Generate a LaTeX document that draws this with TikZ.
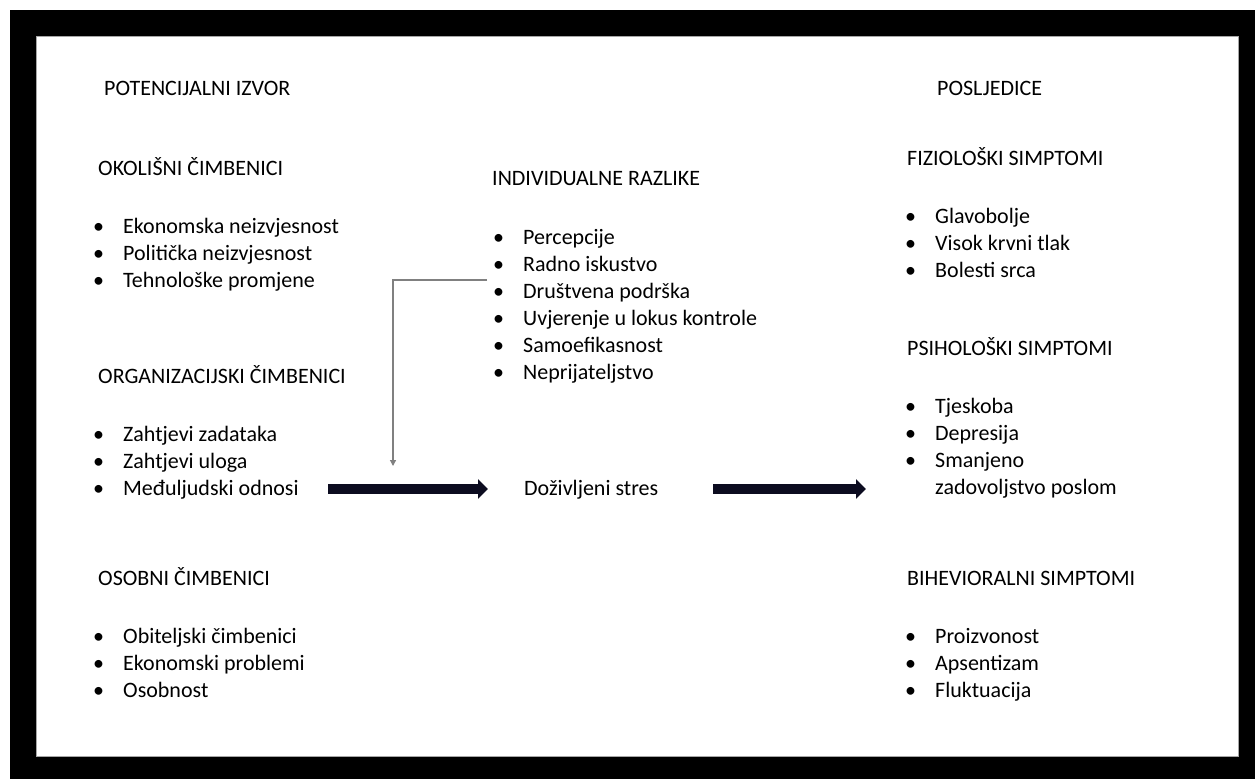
\documentclass[tikz,border=0pt]{standalone}
\usepackage{fontspec}
\setmainfont{Carlito}
\usepackage{xcolor}
\usetikzlibrary{arrows.meta,positioning}

\definecolor{arrownavy}{RGB}{12,12,32}
\definecolor{linkgray}{RGB}{128,128,128}

% bullet list set as a tabular, first baseline on top
\newcommand{\blist}[1]{\begin{tabular}[t]{@{}p{30pt}@{}l@{}}#1\end{tabular}}

\begin{document}
\begin{tikzpicture}[
  x=1pt, y=-1pt,
  head/.style={anchor=base west, inner sep=0pt, font=\fontsize{22}{27}\selectfont},
  items/.style={anchor=base west, inner sep=0pt, font=\fontsize{22}{27}\selectfont, align=left},
  bigarrow/.style={-{Triangle[length=10pt, width=19pt]}, line width=9.5pt, draw=arrownavy},
  modarrow/.style={-{Triangle[length=6pt, width=6pt]}, line width=1.3pt, draw=linkgray}
]
\useasboundingbox (0,0) rectangle (1255,779);

% frame
\fill[white] (0,0) rectangle (1255,779);
\fill[black] (10,10) rectangle (1255,779);
\fill[white] (36,36) rectangle (1238,756);
\draw[gray!70, line width=0.8pt] (36,36) rectangle (1238,756);

% Left column - potential sources
\node[head] (izvor) at (104,95) {POTENCIJALNI IZVOR};
\node[head] (okolis) at (98,175) {OKOLIŠNI ČIMBENICI};
\node[items] (okolisitems) at (93,233) {\blist{%
  \textbullet & Ekonomska neizvjesnost\\
  \textbullet & Politička neizvjesnost\\
  \textbullet & Tehnološke promjene}};
\node[head] (organ) at (98,383) {ORGANIZACIJSKI ČIMBENICI};
\node[items] (organitems) at (93,441) {\blist{%
  \textbullet & Zahtjevi zadataka\\
  \textbullet & Zahtjevi uloga\\
  \textbullet & Međuljudski odnosi}};
\node[head] (osobni) at (98,585) {OSOBNI ČIMBENICI};
\node[items] (osobniitems) at (93,643) {\blist{%
  \textbullet & Obiteljski čimbenici\\
  \textbullet & Ekonomski problemi\\
  \textbullet & Osobnost}};

% Middle column - individual differences and stress
\node[head] (razlike) at (492,185) {INDIVIDUALNE RAZLIKE};
\node[items] (razlikeitems) at (493,244) {\blist{%
  \textbullet & Percepcije\\
  \textbullet & Radno iskustvo\\
  \textbullet & Društvena podrška\\
  \textbullet & Uvjerenje u lokus kontrole\\
  \textbullet & Samoefikasnost\\
  \textbullet & Neprijateljstvo}};
\node[head] (stres) at (524,495) {Doživljeni stres};

% Right column - consequences
\node[head] (posljedice) at (937,95) {POSLJEDICE};
\node[head] (fizio) at (907,165) {FIZIOLOŠKI SIMPTOMI};
\node[items] (fizioitems) at (905,223) {\blist{%
  \textbullet & Glavobolje\\
  \textbullet & Visok krvni tlak\\
  \textbullet & Bolesti srca}};
\node[head] (psiho) at (907,355) {PSIHOLOŠKI SIMPTOMI};
\node[items] (psihoitems) at (905,413) {\blist{%
  \textbullet & Tjeskoba\\
  \textbullet & Depresija\\
  \textbullet & Smanjeno\\
              & zadovoljstvo poslom}};
\node[head] (bihev) at (907,585) {BIHEVIORALNI SIMPTOMI};
\node[items] (bihevitems) at (905,643) {\blist{%
  \textbullet & Proizvonost\\
  \textbullet & Apsentizam\\
  \textbullet & Fluktuacija}};

% Free arrow ends
\coordinate (srcout) at (328,489);
\coordinate (resin) at (866,489);
\coordinate (modstart) at (487,280);
\coordinate (modend) at (393,466);

% Main arrows
\draw[bigarrow] (srcout) -- ([xshift=-36pt]stres.west |- srcout);
\draw[bigarrow] ([xshift=55pt]stres.east |- srcout) -- (resin);

% Moderator link
\draw[modarrow] (modstart) -| (modend);

\end{tikzpicture}
\end{document}
